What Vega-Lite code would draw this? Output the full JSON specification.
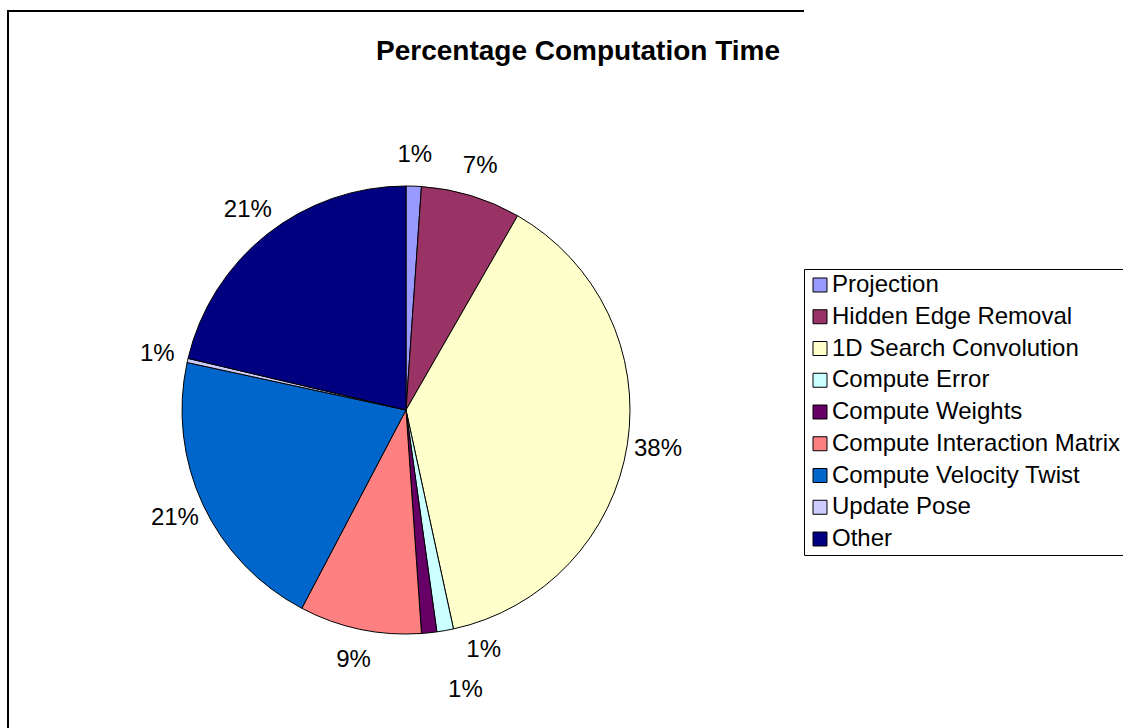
{
  "$schema": "https://vega.github.io/schema/vega-lite/v6.json",
  "autosize": {"type": "none"},
  "padding": {"left": 8, "top": 11, "right": 319, "bottom": 0},
  "width": 796,
  "height": 798,
  "background": "white",
  "view": {"stroke": "black", "strokeWidth": 2, "strokeDash": [796, 1594, 800]},
  "title": {
    "text": "Percentage Computation Time",
    "font": "Liberation Sans",
    "fontSize": 28,
    "fontWeight": "bold",
    "color": "black",
    "anchor": "middle",
    "frame": "group",
    "dx": 172,
    "offset": -77,
    "baseline": "alphabetic"
  },
  "data": {
    "values": [
      {"idx": 1, "name": "Projection", "pct": 1.1, "label": "1%"},
      {"idx": 2, "name": "Hidden Edge Removal", "pct": 7.2, "label": "7%"},
      {"idx": 3, "name": "1D Search Convolution", "pct": 38.3, "label": "38%"},
      {"idx": 4, "name": "Compute Error", "pct": 1.2, "label": "1%"},
      {"idx": 5, "name": "Compute Weights", "pct": 1.1, "label": "1%"},
      {"idx": 6, "name": "Compute Interaction Matrix", "pct": 8.8, "label": "9%"},
      {"idx": 7, "name": "Compute Velocity Twist", "pct": 20.7, "label": "21%"},
      {"idx": 8, "name": "Update Pose", "pct": 0.3, "label": "1%"},
      {"idx": 9, "name": "Other", "pct": 21.3, "label": "21%"}
    ]
  },
  "layer": [
    {
      "mark": {"type": "arc", "outerRadius": 224, "stroke": "black", "strokeWidth": 1},
      "encoding": {
        "theta": {"field": "pct", "type": "quantitative", "stack": true},
        "order": {"field": "idx", "type": "quantitative"},
        "color": {
          "field": "name",
          "type": "nominal",
          "scale": {
            "domain": ["Projection", "Hidden Edge Removal", "1D Search Convolution", "Compute Error", "Compute Weights", "Compute Interaction Matrix", "Compute Velocity Twist", "Update Pose", "Other"],
            "range": ["#9999FF", "#993366", "#FFFFCC", "#CCFFFF", "#660066", "#FF8080", "#0066CC", "#CCCCFF", "#000080"]
          },
          "legend": {
            "orient": "none",
            "legendX": 796,
            "legendY": 258,
            "title": null,
            "labelFont": "Liberation Sans",
            "labelFontSize": 24,
            "labelColor": "black",
            "labelLimit": 500,
            "labelOffset": 0,
            "symbolType": "square",
            "symbolSize": 196,
            "symbolStrokeColor": "black",
            "symbolStrokeWidth": 1,
            "strokeColor": "black",
            "fillColor": "white",
            "padding": 4,
            "rowPadding": 7.75
          }
        }
      }
    },
    {
      "mark": {"type": "text", "radius": 255, "fontSize": 24, "font": "Liberation Sans", "color": "black"},
      "encoding": {
        "theta": {"field": "pct", "type": "quantitative", "stack": true},
        "order": {"field": "idx", "type": "quantitative"},
        "text": {"condition": {"test": "datum.name !== 'Compute Error' && datum.name !== 'Compute Weights'", "field": "label"}, "value": ""}
      }
    },
    {
      "mark": {"type": "text", "radius": 255, "fontSize": 24, "font": "Liberation Sans", "color": "black", "dx": 33, "dy": -11},
      "encoding": {
        "theta": {"field": "pct", "type": "quantitative", "stack": true},
        "order": {"field": "idx", "type": "quantitative"},
        "text": {"condition": {"test": "datum.name === 'Compute Error'", "field": "label"}, "value": ""}
      }
    },
    {
      "mark": {"type": "text", "radius": 255, "fontSize": 24, "font": "Liberation Sans", "color": "black", "dx": 33, "dy": 26},
      "encoding": {
        "theta": {"field": "pct", "type": "quantitative", "stack": true},
        "order": {"field": "idx", "type": "quantitative"},
        "text": {"condition": {"test": "datum.name === 'Compute Weights'", "field": "label"}, "value": ""}
      }
    }
  ]
}
